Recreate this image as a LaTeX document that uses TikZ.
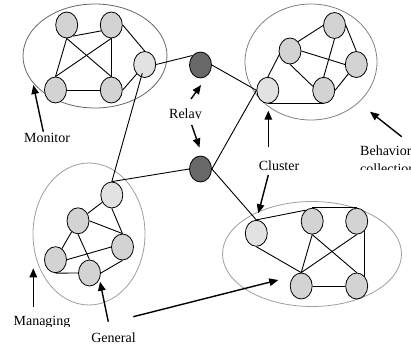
\documentclass[tikz,border=0pt]{standalone}
\usepackage{fontspec}
\setmainfont{Liberation Serif}
\usetikzlibrary{shapes.geometric,arrows.meta}
\definecolor{nodefill}{HTML}{D3D3D3}
\definecolor{gatefill}{HTML}{E2E2E2}
\definecolor{relayfill}{HTML}{686868}
\begin{document}
\begin{tikzpicture}[x=1pt,y=-1pt,
  member/.style={ellipse,draw=black,line width=0.8pt,fill=nodefill,minimum width=22pt,minimum height=26pt,inner sep=0pt},
  gateway/.style={member,fill=gatefill},
  relaynode/.style={member,fill=relayfill},
  edge/.style={draw=black,line width=0.9pt},
  pointer/.style={draw=black,line width=1.4pt,-{Triangle[length=9pt,width=7.5pt]}},
  group/.style={line width=0.8pt},
  lbl/.style={font=\fontsize{14}{18}\selectfont,inner sep=0pt,anchor=base}]
\useasboundingbox (0,0) rectangle (411,345);
% cluster outlines
\draw[group,draw=black!60] (95,56) ellipse [x radius=72,y radius=52];
\draw[group,draw=black!50] (311,62) ellipse [x radius=66,y radius=58];
\draw[group,draw=black!38] (89,234) ellipse [x radius=56,y radius=71];
\draw[group,draw=black!38] (312,254) ellipse [x radius=89.5,y radius=52.5];
% top-left cluster
\node[member] (A1) at (66.7,25) {};
\node[member] (A2) at (111.3,25) {};
\node[gateway] (A3) at (144.7,64.5) {};
\node[member] (A4) at (55.5,90) {};
\node[member] (A5) at (111.3,90) {};
% top-right cluster
\node[member] (C1) at (290,51) {};
\node[member] (C2) at (334.5,25.5) {};
\node[member] (C3) at (356.3,64.5) {};
\node[gateway] (C4) at (267.8,90.3) {};
\node[member] (C5) at (323.7,90.3) {};
% bottom-left cluster
\node[gateway] (B1) at (111.8,195) {};
\node[member] (B2) at (78,220.8) {};
\node[member] (B3) at (122.5,247) {};
\node[member] (B4) at (55.5,259.7) {};
\node[member] (B5) at (89.5,273) {};
% bottom-right cluster
\node[gateway] (D1) at (256.3,233.3) {};
\node[member] (D2) at (312.2,221.2) {};
\node[member] (D3) at (356.7,221.2) {};
\node[member] (D4) at (301.2,286) {};
\node[member] (D5) at (356.7,286) {};
% relays
\node[relaynode] (R1) at (200.5,65) {};
\node[relaynode] (R2) at (200.5,169) {};
% edges top-left
\draw[edge] (A1.-60) -- (A2.-150);
\draw[edge] (A1.south) -- (A4.north);
\draw[edge] (A1.south) -- (A5.north);
\draw[edge] (A2.south) -- (A4.north);
\draw[edge] (A2.south) -- (A5.north);
\draw[edge] (A2.east) -- (A3.north);
\draw[edge] (A4.east) -- (A5.west);
\draw[edge] (A5.east) -- (A3.south west);
% edges top-right
\draw[edge] (C4.north) -- (C1.200);
\draw[edge] (C1.north east) -- (C2.west);
\draw[edge] (C1.east) -- (C3.west);
\draw[edge] (C1.south) -- (C5.160);
\draw[edge] (C2.south) -- (C5.north);
\draw[edge] (C2.east) -- (C3.north);
\draw[edge] (C5.east) -- (C3.south west);
\draw[edge] (C4.south) -- (C5.south);
% edges bottom-left
\draw[edge] (B1) -- (B2);
\draw[edge] (B1.south) -- (B3.north);
\draw[edge] (B2.east) -- (B3.north);
\draw[edge] (B2) -- (B4);
\draw[edge] (B2.south) -- (B5.north);
\draw[edge] (B4.east) -- (B3.west);
\draw[edge] (B4.south) -- (B5.west);
\draw[edge] (B5.east) -- (B3.south);
% edges bottom-right
\draw[edge] (D1.north) -- (D2.120);
\draw[edge] (D2.north) -- (D3.north);
\draw[edge] (D1.south) -- (D4.north);
\draw[edge] (D2.south) -- (D4.north);
\draw[edge] (D2.south) -- (D5.north);
\draw[edge] (D3.south) -- (D4.north);
\draw[edge] (D3.south east) -- (D5.north east);
\draw[edge] (D4.east) -- (D5.west);
% inter-cluster links
\draw[edge] (A3.east) -- (R1.north west);
\draw[edge] (R1.east) -- (C4.west);
\draw[edge,shorten <=9pt] (A3.center) -- (B1.north);
\draw[edge] (B1.north) -- (R2.west);
\draw[edge] (R2.east) -- (C4.west);
\draw[edge] (R2.east) -- (D1.north);
% pointer coordinates
\coordinate (monT) at (43.3,131.7);  \coordinate (monH) at (33.3,85);
\coordinate (relUT) at (191,99);     \coordinate (relUH) at (201,85);
\coordinate (relDT) at (191.7,125);  \coordinate (relDH) at (199.5,147.5);
\coordinate (cluUT) at (268.3,147);  \coordinate (cluUH) at (268.3,110.7);
\coordinate (cluDT) at (268.3,175);  \coordinate (cluDH) at (258.3,213.3);
\coordinate (behT) at (401.7,136.7); \coordinate (behH) at (370,111.7);
\coordinate (manT) at (33.3,306.7);  \coordinate (manH) at (33.3,268.3);
\coordinate (genAT) at (108.3,321.7); \coordinate (genAH) at (100,281.7);
\coordinate (genBT) at (133.3,316.7); \coordinate (genBH) at (278.3,280);
\draw[pointer] (monT) -- (monH);
\draw[pointer] (relUT) -- (relUH);
\draw[pointer] (relDT) -- (relDH);
\draw[pointer] (cluUT) -- (cluUH);
\draw[pointer] (cluDT) -- (cluDH);
\draw[pointer] (behT) -- (behH);
\draw[pointer] (manT) -- (manH);
\draw[pointer] (genAT) -- (genAH);
\draw[pointer] (genBT) -- (genBH);
% labels
\node[lbl] (tMon) at (47,142) {Monitor};
\begin{scope}
  \clip (150,95) rectangle (225,118.6);
  \node[lbl] (tRel) at (185.5,118) {Relay};
\end{scope}
\node[lbl] (tClu) at (279,170) {Cluster};
\begin{scope}
  \clip (350,130) rectangle (410,169.5);
  \node[lbl,anchor=base west,align=left] (tBeh) at (360,173) {Behavior\\collection};
\end{scope}
\begin{scope}
  \clip (0,305) rectangle (90,326.3);
  \node[lbl] (tMan) at (42,325) {Managing};
\end{scope}
\node[lbl] (tGen) at (113.5,342) {General};
\end{tikzpicture}
\end{document}
